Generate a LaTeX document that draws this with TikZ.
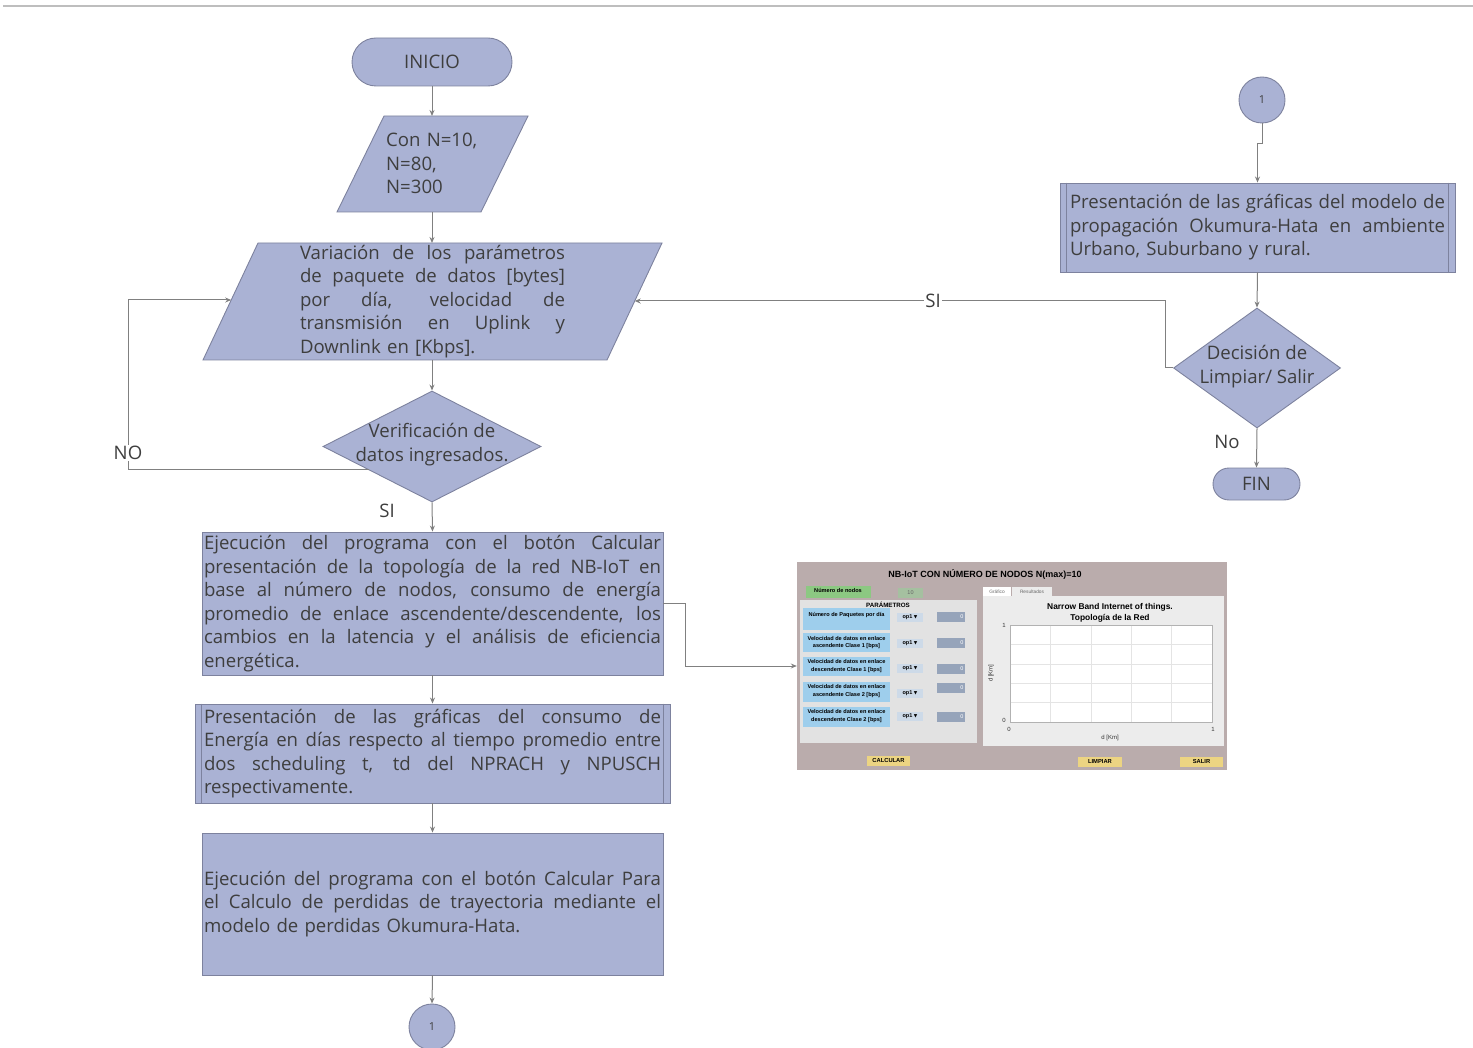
\documentclass[tikz,border=0pt]{standalone}
\usepackage{fontspec}
\setmainfont{Open Sans}
\newfontfamily\guifont{Liberation Sans}
\newfontfamily\symfont{DejaVu Sans}
\usetikzlibrary{shapes.geometric,arrows.meta,calc}
\definecolor{fillc}{RGB}{170,178,212}
\definecolor{bordc}{RGB}{125,130,158}
\definecolor{linec}{RGB}{128,128,128}
\definecolor{txtc}{RGB}{62,62,62}
\definecolor{topl}{RGB}{190,190,190}
\definecolor{scrbg}{RGB}{186,172,172}
\definecolor{guipanel}{RGB}{226,226,226}
\definecolor{guitab}{RGB}{236,236,236}
\definecolor{guiblue}{RGB}{158,206,236}
\definecolor{guigreen}{RGB}{140,200,130}
\definecolor{guigreen2}{RGB}{165,192,160}
\definecolor{guipop}{RGB}{205,218,232}
\definecolor{guival}{RGB}{150,164,186}
\definecolor{guiyel}{RGB}{236,212,130}
\definecolor{guigrid}{RGB}{228,228,228}
\newcommand\jl[1]{\makebox[\hsize][s]{\spaceskip=0.26em plus 1fil minus 0.08em\relax #1}\\}
\tikzset{
  flow/.style={draw=bordc,fill=fillc,line width=0.9,inner sep=0,text=txtc,
    font=\fontsize{18.6}{23.5}\selectfont},
  txt/.style={inner sep=0,text=txtc,font=\fontsize{18.6}{23.5}\selectfont},
  arr/.style={draw=linec,line width=1,-{Stealth[length=6,width=5]}},
  lbl/.style={inner sep=1,text=txtc,fill=white,font=\fontsize{18.6}{20}\selectfont},
  conn/.style={circle,draw=bordc,fill=fillc,line width=0.9,minimum size=46,inner sep=0,
    text=txtc,font=\fontsize{11}{12}\selectfont},
  term/.style={flow,rounded corners=#1},
  gtxt/.style={inner sep=0,text=black,font=\guifont\bfseries\fontsize{5.6}{7.2}\selectfont},
  gsm/.style={inner sep=0,text=black!80,font=\guifont\fontsize{6}{7}\selectfont},
  gbox/.style={inner sep=0,draw=none},
  gbtn/.style={gbox,fill=guiyel,minimum width=43,minimum height=10,text=black,
    font=\guifont\bfseries\fontsize{5.8}{6}\selectfont},
}
\begin{document}
\begin{tikzpicture}[x=1pt,y=-1pt]
\useasboundingbox (0,0) rectangle (1473,1048);
% top rule
\coordinate (tl1) at (3,6);
\coordinate (tl2) at (1473,6);
\draw[topl,line width=1.2] (tl1) -- (tl2);

% ---------------- left column ----------------
\node[term=24,minimum width=160,minimum height=48] (inicio) at (432,62) {INICIO};

% parallelogram Con N
\coordinate (p1a) at (384,116); \coordinate (p1b) at (528,116);
\coordinate (p1c) at (481,212); \coordinate (p1d) at (337,212);
\draw[flow] (p1a) -- (p1b) -- (p1c) -- (p1d) -- cycle;
\node[txt,text width=120,align=left,anchor=west] (con) at (386,163.5) {Con N=10,\\N=80,\\N=300};
\coordinate (conTop) at (432,116);
\coordinate (conBot) at (432,212);

% parallelogram Variacion
\coordinate (p2a) at (258,243); \coordinate (p2b) at (662,243);
\coordinate (p2c) at (607,360); \coordinate (p2d) at (203,360);
\draw[flow] (p2a) -- (p2b) -- (p2c) -- (p2d) -- cycle;
\node[txt,text width=265,align=left] (var) at (432.5,301.5) {%
\jl{Variación de los parámetros}\jl{de paquete de datos [bytes]}\jl{por día, velocidad de}\jl{transmisión en Uplink y}Downlink en [Kbps].};
\coordinate (varTop) at (432,243);
\coordinate (varBot) at (432,360);
\coordinate (varL) at (231.2,300);
\coordinate (varR) at (634.7,301);

% decision verificacion
\node[flow,diamond,minimum width=218,minimum height=111] (verif) at (432,446.5) {};
\node[txt,align=center] (verifT) at (432,444.5) {Verificación de\\datos ingresados.};

% box ejecucion
\node[flow,minimum width=461,minimum height=143,text width=457,align=left] (ejec) at (432.5,603.5) {%
\jl{Ejecución del programa con el botón Calcular}\jl{presentación de la topología de la red NB-IoT en}\jl{base al número de nodos, consumo de energía}\jl{promedio de enlace ascendente/descendente, los}\jl{cambios en la latencia y el análisis de eficiencia}energética.};

% predefined process consumo
\node[flow,minimum width=475,minimum height=99,text width=457,align=left] (cons) at (432.5,753.5) {%
\jl{Presentación de las gráficas del consumo de}\jl{Energía en días respecto al tiempo promedio entre}\jl{dos scheduling t, td del NPRACH y NPUSCH}respectivamente.};
\draw[draw=bordc,line width=0.9] ([xshift=7pt]cons.north west) -- ([xshift=7pt]cons.south west);
\draw[draw=bordc,line width=0.9] ([xshift=-7pt]cons.north east) -- ([xshift=-7pt]cons.south east);

% box okumura
\node[flow,minimum width=461,minimum height=142,text width=457,align=left] (okum) at (432.5,904) {%
\jl{Ejecución del programa con el botón Calcular Para}\jl{el Calculo de perdidas de trayectoria mediante el}modelo de perdidas Okumura-Hata.};

\node[conn] (c1) at (432,1027) {1};

% left connectors
\draw[arr] (inicio.south) -- (conTop);
\draw[arr] (conBot) -- (varTop);
\draw[arr] (varBot) -- (verif.north);
\draw[arr] (verif.south) -- (ejec.north);
\draw[arr] (ejec.south) -- (cons.north);
\draw[arr] (cons.south) -- (okum.north);
\draw[arr] (okum.south) -- (c1.north);
\coordinate (noStart) at ($(verif.west)!0.42!(verif.south)$);
\coordinate (noX) at (128,300);
\draw[arr] (noStart) -| (noX) -- (varL);
\node[lbl] (noL) at (128,453) {NO};
\node[lbl,fill=none] (siL1) at (387,511) {SI};

% ---------------- right column ----------------
\node[conn] (c2) at (1262,100) {1};
\node[flow,minimum width=395,minimum height=89,text width=375,align=left] (res) at (1257.5,227.5) {%
\jl{Presentación de las gráficas del modelo de}\jl{propagación Okumura-Hata en ambiente}Urbano, Suburbano y rural.};
\draw[draw=bordc,line width=0.9] ([xshift=7pt]res.north west) -- ([xshift=7pt]res.south west);
\draw[draw=bordc,line width=0.9] ([xshift=-7pt]res.north east) -- ([xshift=-7pt]res.south east);
\node[flow,diamond,minimum width=167,minimum height=120] (dec) at (1257,368) {};
\node[txt,align=center] (decT) at (1257,366.5) {Decisión de\\Limpiar/ Salir};
\node[term=16,minimum width=87,minimum height=32] (fin) at (1256.5,484) {FIN};

\draw[arr] (c2.south) -- ++(0,20) -| (res.north);
\draw[arr] (res.south) -- (dec.north);
\draw[arr] (dec.south) -- (fin.north);
\draw[arr] (dec.west) -- ++(-8,0) |- (varR);
\node[lbl] (siL2) at (933,301) {SI};
\node[lbl,fill=none] (noL2) at (1227,442) {No};

% ---------------- GUI screenshot ----------------
\node[gbox,fill=scrbg,minimum width=430,minimum height=208] (gui) at (1012,666) {};
\draw[arr] (ejec.east) -- ++(22,0) |- (gui.west);
\node[gtxt,font=\guifont\bfseries\fontsize{9}{10}\selectfont] (guiT) at (985,574) {NB-IoT CON NÚMERO DE NODOS N(max)=10};
\node[gbox,fill=guigreen,minimum width=65,minimum height=12] (nn) at (838,591.5) {};
\node[gtxt] (nnT) at (838,590) {Número de nodos};
\node[gbox,fill=guigreen2,minimum width=25,minimum height=10,text=black!60,font=\guifont\fontsize{5.5}{6}\selectfont] (nval) at (910.5,592.5) {10};
\node[gbox,fill=guipanel,minimum width=177,minimum height=143] (pan) at (888.5,671.5) {};
\node[gtxt,font=\guifont\bfseries\fontsize{6.2}{7}\selectfont] (parT) at (888,604.5) {PARÁMETROS};
% rows
\node[gbox,fill=guiblue,minimum width=87,minimum height=22] (r1) at (846.5,619) {};
\node[gtxt] (r1t) at (846.5,615.5) {Número de Paquetes por día};
\node[gbox,fill=guiblue,minimum width=87,minimum height=19] (r2) at (846.5,642.5) {};
\node[gtxt,align=center] (r2t) at (846.5,642.5) {Velocidad de datos en enlace\\ascendente Clase 1 [bps]};
\node[gbox,fill=guiblue,minimum width=87,minimum height=19] (r3) at (846.5,666) {};
\node[gtxt,align=center] (r3t) at (846.5,666) {Velocidad de datos en enlace\\descendente Clase 1 [bps]};
\node[gbox,fill=guiblue,minimum width=87,minimum height=20] (r4) at (846.5,692) {};
\node[gtxt,align=center] (r4t) at (846.5,691) {Velocidad de datos en enlace\\ascendente Clase 2 [bps]};
\node[gbox,fill=guiblue,minimum width=87,minimum height=20] (r5) at (846.5,717) {};
\node[gtxt,align=center] (r5t) at (846.5,716) {Velocidad de datos en enlace\\descendente Clase 2 [bps]};
% popups
\foreach \n/\yy in {1/617,2/643,3/668.5,4/693,5/716.5}{
  \node[gbox,fill=guipop,minimum width=26,minimum height=9,text=black,
    font=\guifont\bfseries\fontsize{5.5}{6}\selectfont] (pop\n) at (910,\yy) {op1 {\symfont\fontsize{4.5}{5}\selectfont ▼}};
}
\foreach \n/\yy in {1/617,2/643,3/668.5,4/688,5/716.5}{
  \node[gbox,fill=guival,minimum width=28,minimum height=10,text width=25,align=right,
    text=white,font=\guifont\fontsize{5.5}{6}\selectfont] (val\n) at (951,\yy) {0};
}
% right panel
\node[gbox,fill=guitab,minimum width=241,minimum height=150] (tabs) at (1103.5,670.5) {};
\node[gbox,fill=white,minimum width=28,minimum height=9,text=black!60,font=\guifont\fontsize{4.8}{5}\selectfont] (tab1) at (997,591.5) {Gráfico};
\node[gbox,fill=guitab,minimum width=40,minimum height=9,text=black!60,font=\guifont\fontsize{4.8}{5}\selectfont] (tab2) at (1032,591.5) {Resultados};
\node[gtxt,align=center,font=\guifont\bfseries\fontsize{8.4}{11}\selectfont] (plT) at (1110,612.5) {Narrow Band Internet of things.\\Topología de la Red};
\node[gbox,fill=white,draw=black!30,line width=0.4,minimum width=202,minimum height=97] (ax) at (1111,673.5) {};
\foreach \xx in {1050.4,1090.8,1131.2,1171.6}{\draw[guigrid,line width=0.5] (\xx,625.5) -- (\xx,721.5);}
\foreach \yy in {644.4,663.8,683.2,702.6}{\draw[guigrid,line width=0.5] (1010.5,\yy) -- (1211.5,\yy);}
\node[gsm] (yt1) at (1004,625) {1};
\node[gsm] (yt0) at (1004,720) {0};
\node[gsm] (xt0) at (1009,729) {0};
\node[gsm] (xt1) at (1213,729) {1};
\node[gsm] (xl) at (1110,738) {d [Km]};
\node[gsm,rotate=90] (yl) at (991,673) {d [Km]};
% buttons
\node[gbtn] (bcalc) at (888.5,761) {CALCULAR};
\node[gbtn,minimum width=44] (blimp) at (1100,762) {LIMPIAR};
\node[gbtn] (bsal) at (1201.5,762) {SALIR};
\end{tikzpicture}
\end{document}
